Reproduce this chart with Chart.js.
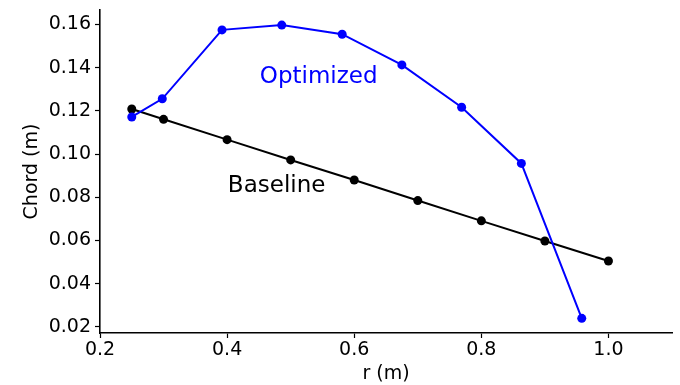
<!DOCTYPE html>
<html>
<head>
<meta charset="utf-8">
<script src="https://cdn.jsdelivr.net/npm/chart.js@4/dist/chart.umd.min.js"></script>
<style>
  html, body { margin: 0; padding: 0; background: #ffffff; }
  canvas { display: block; }
</style>
</head>
<body>
<canvas id="chart" width="680" height="385"></canvas>
<script>
// Blade chord distribution along the radius
const baselineRadius = [0.25, 0.3, 0.4, 0.5, 0.6, 0.7, 0.8, 0.9, 1.0];
const baselineChord = [0.1209, 0.1161, 0.1067, 0.0973, 0.0880, 0.0785, 0.0691, 0.0598, 0.0505];
const optimizedRadius = [0.25, 0.298, 0.392, 0.486, 0.581, 0.675, 0.769, 0.863, 0.958];
const optimizedChord = [0.1172, 0.1256, 0.1575, 0.1597, 0.1555, 0.1413, 0.1217, 0.0957, 0.0240];
const xTicks = [0.2, 0.4, 0.6, 0.8, 1.0];
const yTicks = [0.02, 0.04, 0.06, 0.08, 0.10, 0.12, 0.14, 0.16];
const seriesNames = ['Optimized', 'Baseline'];

const FONT = 'DejaVu Sans';

function toPoints(xs, ys) {
  return xs.map((x, i) => ({ x: x, y: ys[i] }));
}

// In-plot text labels naming each curve
const curveLabels = {
  id: 'curveLabels',
  afterDatasetsDraw(chart) {
    const { ctx, scales } = chart;
    const items = [
      { text: seriesNames[0], x: 0.4515, y: 0.1328, color: '#0000ff' },
      { text: seriesNames[1], x: 0.4012, y: 0.0826, color: '#000000' }
    ];
    ctx.save();
    ctx.font = '23px "' + FONT + '"';
    ctx.textAlign = 'left';
    ctx.textBaseline = 'alphabetic';
    items.forEach(it => {
      ctx.fillStyle = it.color;
      ctx.fillText(it.text, scales.x.getPixelForValue(it.x), scales.y.getPixelForValue(it.y));
    });
    ctx.restore();
  }
};

new Chart(document.getElementById('chart'), {
  type: 'scatter',
  data: {
    datasets: [
      {
        label: seriesNames[1],
        data: toPoints(baselineRadius, baselineChord),
        showLine: true,
        borderColor: '#000000',
        backgroundColor: '#000000',
        borderWidth: 2,
        pointRadius: 4.5,
        pointHoverRadius: 4.5,
        pointBorderWidth: 0,
        order: 2
      },
      {
        label: seriesNames[0],
        data: toPoints(optimizedRadius, optimizedChord),
        showLine: true,
        borderColor: '#0000ff',
        backgroundColor: '#0000ff',
        borderWidth: 2,
        pointRadius: 4.5,
        pointHoverRadius: 4.5,
        pointBorderWidth: 0,
        order: 1
      }
    ]
  },
  options: {
    responsive: false,
    animation: false,
    devicePixelRatio: 1,
    clip: false,
    layout: { padding: { left: 0, top: 10, right: 8, bottom: 0 } },
    plugins: {
      legend: { display: false },
      tooltip: { enabled: false }
    },
    scales: {
      x: {
        type: 'linear',
        min: 0.2,
        max: 1.1,
        afterBuildTicks: scale => { scale.ticks = xTicks.map(v => ({ value: v })); },
        afterFit: scale => {
          scale.height = 52;
          scale.paddingLeft = 0;
          scale.paddingRight = 0;
        },
        ticks: {
          color: '#000000',
          font: { family: FONT, size: 19 },
          padding: 1,
          maxRotation: 0,
          callback: v => Number(v).toFixed(1)
        },
        grid: {
          display: true,
          drawOnChartArea: false,
          drawTicks: true,
          tickLength: 5,
          tickWidth: 1.2,
          tickColor: '#000000'
        },
        border: { display: true, color: '#000000', width: 1.6 },
        title: {
          display: true,
          text: 'r (m)',
          color: '#000000',
          font: { family: FONT, size: 19 },
          padding: { top: 0, bottom: 0 }
        }
      },
      y: {
        type: 'linear',
        min: 0.0172,
        max: 0.1667,
        afterBuildTicks: scale => { scale.ticks = yTicks.map(v => ({ value: v })); },
        afterFit: scale => {
          scale.width = 100;
          scale.paddingTop = 0;
          scale.paddingBottom = 0;
        },
        ticks: {
          color: '#000000',
          font: { family: FONT, size: 19 },
          padding: 4,
          callback: v => Number(v).toFixed(2)
        },
        grid: {
          display: true,
          drawOnChartArea: false,
          drawTicks: true,
          tickLength: 5,
          tickWidth: 1.2,
          tickColor: '#000000'
        },
        border: { display: true, color: '#000000', width: 1.6 },
        title: {
          display: true,
          text: 'Chord (m)',
          color: '#000000',
          font: { family: FONT, size: 19 },
          padding: { top: 21, bottom: 0 }
        }
      }
    }
  },
  plugins: [curveLabels]
});
</script>
</body>
</html>
